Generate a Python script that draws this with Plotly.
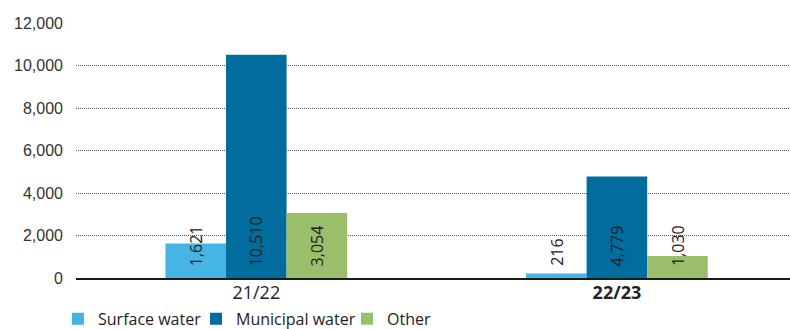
import plotly.graph_objects as go

# Water withdrawal by source, per reporting year
years = ["21/22", "22/23"]
year_labels = ["21/22", "<b>22/23</b>"]
series_names = ["Surface water", "Municipal water", "Other"]
surface_water = [1621, 216]
municipal_water = [10510, 4779]
other = [3054, 1030]
series_values = [surface_water, municipal_water, other]
series_colors = ["#46b5e4", "#006d9e", "#9bbe6a"]
y_ticks = [0, 2000, 4000, 6000, 8000, 10000, 12000]

BAR_GAP = 0.496
bar_w = (1 - BAR_GAP) / len(series_names)

# each legend entry gets its own legend box so the spacing can be set
legend_ids = ["legend", "legend2", "legend3"]
legend_x = [-0.0252, 0.1681, 0.3796]

fig = go.Figure()
for name, vals, col, lid in zip(series_names, series_values, series_colors, legend_ids):
    fig.add_trace(go.Bar(
        name=name, x=list(range(len(years))), y=vals,
        marker=dict(color=col, line=dict(width=0)),
        legend=lid, hoverinfo="skip",
    ))

# rotated value labels sitting at the foot of each bar
annotations = []
for si, vals in enumerate(series_values):
    offset = (si - (len(series_names) - 1) / 2) * bar_w
    for ci, v in enumerate(vals):
        annotations.append(dict(
            x=ci + offset, y=0, xref="x", yref="y",
            text=f"{v:,}", textangle=-90, showarrow=False,
            xanchor="center", yanchor="bottom", yshift=10,
            font=dict(family="Open Sans", size=16, color="#222222"),
        ))

legend_style = dict(
    orientation="h", xanchor="left",
    yref="container", y=0.031, yanchor="middle",
    font=dict(family="Open Sans", size=16, color="#222222"),
    bgcolor="rgba(0,0,0,0)", itemclick=False, itemdoubleclick=False,
)

fig.update_layout(
    width=790, height=329,
    margin=dict(l=76, r=0, t=23, b=51, autoexpand=False),
    paper_bgcolor="white", plot_bgcolor="white",
    barmode="group", bargap=BAR_GAP, bargroupgap=0,
    showlegend=True,
    annotations=annotations,
    xaxis=dict(
        range=[-0.5, 1.48], tickmode="array",
        tickvals=list(range(len(years))), ticktext=year_labels,
        showgrid=False, zeroline=False,
        showline=True, linecolor="#1a1a1a", linewidth=1.5,
        ticks="", ticklabelstandoff=-2, layer="below traces",
        tickfont=dict(family="Open Sans", size=18, color="#222222"),
    ),
    yaxis=dict(
        range=[0, 12000], tickmode="array", tickvals=y_ticks,
        ticktext=[f"{t:,}" for t in y_ticks],
        showgrid=True, gridcolor="#555555", gridwidth=1, griddash="1px,1px",
        zeroline=False, showline=False, ticks="", ticklabelstandoff=12,
        tickfont=dict(family="Liberation Sans", size=16, color="#333333"),
    ),
)
for lid, lx in zip(legend_ids, legend_x):
    fig.update_layout({lid: dict(legend_style, x=lx)})

fig.write_html("out.html")
